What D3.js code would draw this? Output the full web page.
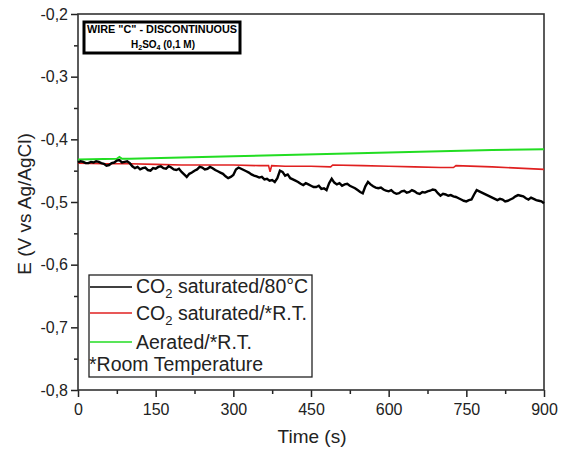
<!DOCTYPE html>
<html><head><meta charset="utf-8">
<script src="https://cdn.jsdelivr.net/npm/d3@7"></script>
<style>body{margin:0;background:#fff;}svg{display:block;font-family:"Liberation Sans",Arial,sans-serif;}</style>
</head><body><svg id="c" width="566" height="452"></svg>
<script>
const xTicks = [0,150,300,450,600,750,900];
const yTicks = [-0.2,-0.3,-0.4,-0.5,-0.6,-0.7,-0.8];
const blackTime = d3.range(0, 901, 5);
const blackValues = [
 -0.437,-0.435,-0.436,-0.438,-0.438,-0.436,-0.437,-0.435,-0.436,-0.438,-0.439,-0.442,-0.441,-0.438,-0.437,-0.434,-0.433,-0.437,-0.436,-0.435,
 -0.438,-0.443,-0.446,-0.444,-0.448,-0.446,-0.445,-0.449,-0.450,-0.446,-0.447,-0.444,-0.443,-0.446,-0.447,-0.443,-0.445,-0.448,-0.449,-0.447,
 -0.452,-0.456,-0.460,-0.455,-0.453,-0.450,-0.448,-0.444,-0.445,-0.448,-0.447,-0.444,-0.446,-0.449,-0.451,-0.453,-0.455,-0.459,-0.462,-0.460,
 -0.457,-0.448,-0.445,-0.447,-0.449,-0.451,-0.453,-0.456,-0.458,-0.459,-0.461,-0.460,-0.464,-0.463,-0.466,-0.465,-0.468,-0.462,-0.450,-0.452,
 -0.458,-0.456,-0.462,-0.464,-0.466,-0.468,-0.471,-0.473,-0.470,-0.472,-0.474,-0.476,-0.476,-0.474,-0.479,-0.478,-0.481,-0.470,-0.463,-0.469,
 -0.472,-0.470,-0.474,-0.472,-0.471,-0.474,-0.476,-0.478,-0.481,-0.484,-0.486,-0.475,-0.468,-0.472,-0.475,-0.477,-0.478,-0.477,-0.480,-0.482,
 -0.483,-0.481,-0.485,-0.487,-0.486,-0.483,-0.482,-0.485,-0.484,-0.481,-0.483,-0.486,-0.487,-0.484,-0.485,-0.483,-0.482,-0.480,-0.481,-0.486,
 -0.490,-0.487,-0.488,-0.490,-0.489,-0.491,-0.492,-0.494,-0.496,-0.498,-0.499,-0.497,-0.496,-0.488,-0.481,-0.483,-0.485,-0.487,-0.489,-0.491,
 -0.493,-0.495,-0.497,-0.495,-0.496,-0.499,-0.498,-0.496,-0.494,-0.491,-0.489,-0.490,-0.491,-0.494,-0.496,-0.493,-0.495,-0.497,-0.498,-0.499,
 -0.502];
const redTime = [0,50,100,150,200,250,300,350,368,371,374,400,450,488,492,550,600,650,700,725,730,800,850,900];
const redValues = [-0.438,-0.439,-0.439,-0.440,-0.441,-0.441,-0.441,-0.442,-0.442,-0.452,-0.442,-0.443,-0.443,-0.444,-0.441,-0.442,-0.443,-0.444,-0.445,-0.445,-0.442,-0.444,-0.446,-0.448];
const greenTime = [0,75,80,85,100,200,300,400,500,600,700,800,900];
const greenValues = [-0.432,-0.431,-0.428,-0.431,-0.431,-0.429,-0.427,-0.425,-0.423,-0.421,-0.419,-0.417,-0.416];
const seriesNames = ["saturated/80°C","saturated/*R.T.","Aerated/*R.T."];
const seriesColors = ["#000000","#e02020","#22dd22"];

const svg = d3.select("#c");
const L=78,R=544,T=14,B=390;
const x = d3.scaleLinear().domain([0,900]).range([L,R]);
const y = d3.scaleLinear().domain([-0.8,-0.2]).range([B,T]);
const fmt = d => d3.format(".1f")(d).replace(".",",").replace("−","-");
const fmtX = d => d3.format("d")(d);

// axes
const gx = svg.append("g").attr("transform",`translate(0,${B})`)
  .call(d3.axisBottom(x).tickValues(xTicks).tickFormat(fmtX).tickSize(7).tickPadding(7));
const gy = svg.append("g").attr("transform",`translate(${L},0)`)
  .call(d3.axisLeft(y).tickValues(yTicks).tickFormat(fmt).tickSize(7).tickPadding(3));
// minor ticks
svg.append("g").attr("transform",`translate(0,${B})`)
  .call(d3.axisBottom(x).tickValues(d3.range(75,900,150)).tickFormat("").tickSize(4))
  .select(".domain").remove();
svg.append("g").attr("transform",`translate(${L},0)`)
  .call(d3.axisLeft(y).tickValues([-0.25,-0.35,-0.45,-0.55,-0.65,-0.75]).tickFormat("").tickSize(4))
  .select(".domain").remove();
svg.selectAll(".tick line").attr("stroke","#222").attr("stroke-width",1.5);
svg.selectAll(".domain").remove();
gx.selectAll("text").attr("font-size",16).attr("fill","#222").style("font-family","Liberation Sans, Arial");
gy.selectAll("text").attr("font-size",16).attr("fill","#222").style("font-family","Liberation Sans, Arial");

// frame
svg.append("rect").attr("x",L).attr("y",T).attr("width",R-L).attr("height",B-T)
  .attr("fill","none").attr("stroke","#333").attr("stroke-width",1.6);

// lines
const line = d3.line().x(d=>x(d[0])).y(d=>y(d[1]));
const zip = (t,v)=>t.map((d,i)=>[d,v[i]]);
svg.append("path").datum(zip(greenTime,greenValues)).attr("d",line)
  .attr("fill","none").attr("stroke",seriesColors[2]).attr("stroke-width",2);
svg.append("path").datum(zip(redTime,redValues)).attr("d",line)
  .attr("fill","none").attr("stroke",seriesColors[1]).attr("stroke-width",1.6);
svg.append("path").datum(zip(blackTime,blackValues)).attr("d",line)
  .attr("fill","none").attr("stroke",seriesColors[0]).attr("stroke-width",2.4);

// annotation box
svg.append("rect").attr("x",84).attr("y",22).attr("width",156).attr("height",31)
  .attr("fill","#fff").attr("stroke","#000").attr("stroke-width",3);
svg.append("text").attr("x",162).attr("y",33).attr("text-anchor","middle")
  .attr("font-size",10).attr("font-weight","bold").attr("textLength",150).attr("lengthAdjust","spacingAndGlyphs")
  .text('WIRE "C" - DISCONTINUOUS');
const ann2 = svg.append("text").attr("x",163).attr("y",48).attr("text-anchor","middle")
  .attr("font-size",10).attr("font-weight","bold");
ann2.append("tspan").text("H");
ann2.append("tspan").attr("font-size",7).attr("dy",2).text("2");
ann2.append("tspan").attr("dy",-2).text("SO");
ann2.append("tspan").attr("font-size",7).attr("dy",2).text("4");
ann2.append("tspan").attr("dy",-2).text(" (0,1 M)");

// legend
svg.append("rect").attr("x",89).attr("y",275).attr("width",223).attr("height",102)
  .attr("fill","#fff").attr("stroke","#222").attr("stroke-width",1.3);
const rowsY = [287,313,342];
const baseY = [293,320,349];
seriesNames.forEach((n,i)=>{
  svg.append("line").attr("x1",90).attr("x2",132).attr("y1",rowsY[i]).attr("y2",rowsY[i])
    .attr("stroke",seriesColors[i]).attr("stroke-width",1.6);
  const t = svg.append("text").attr("x",136).attr("y",baseY[i]).attr("font-size",19.5).attr("fill","#222");
  if(i<2){
    t.append("tspan").text("CO");
    t.append("tspan").attr("font-size",13).attr("dy",5).text("2");
    t.append("tspan").attr("dy",-5).text(" "+n);
  } else t.text(n);
});
svg.append("text").attr("x",89).attr("y",371).attr("font-size",19.5).attr("fill","#222").text("*Room Temperature");

// axis titles
svg.append("text").attr("x",312).attr("y",443).attr("text-anchor","middle").attr("font-size",19).attr("fill","#222").text("Time (s)");
svg.append("text").attr("transform","translate(31,204) rotate(-90)").attr("text-anchor","middle")
  .attr("font-size",19).attr("fill","#222").text("E (V vs Ag/AgCl)");
</script></body></html>
